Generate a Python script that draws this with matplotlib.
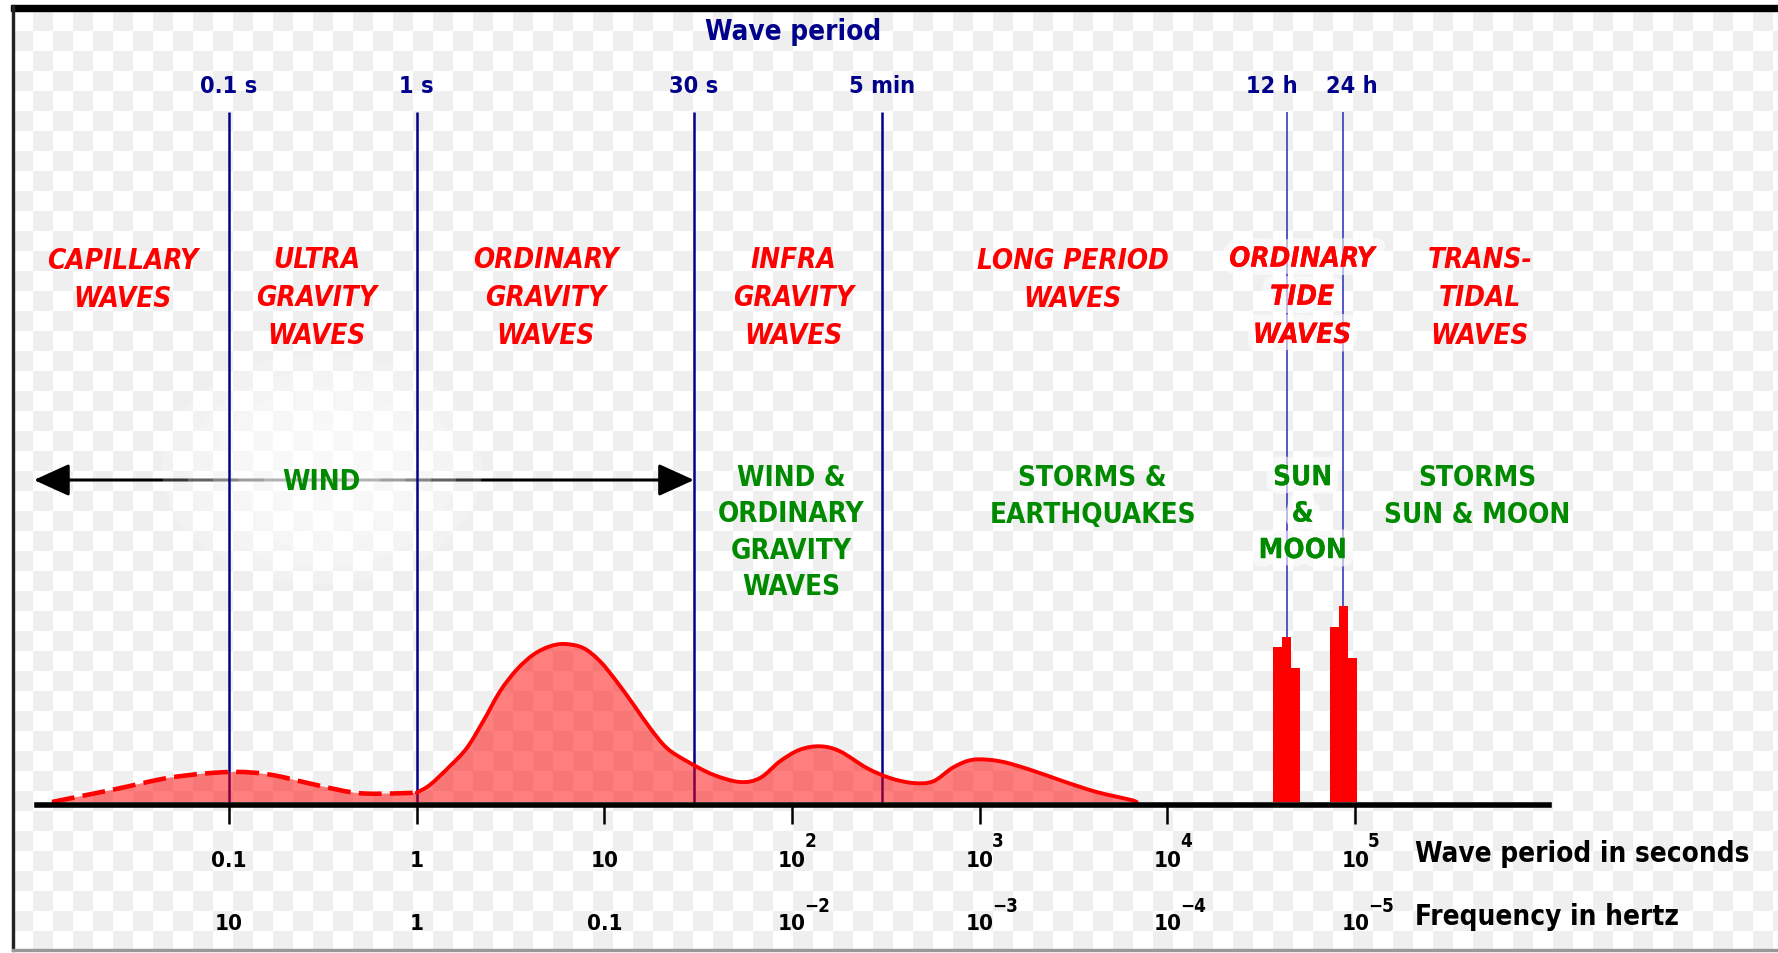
import numpy as np
import matplotlib.pyplot as plt
from matplotlib.colors import ListedColormap
from matplotlib.patches import Ellipse, Rectangle, PathPatch
from matplotlib.path import Path
from matplotlib.ticker import NullLocator
import matplotlib.patheffects as pe

#### Data (period in s, energy in arbitrary units)

# dashed part: capillary / ultra gravity waves
cap_period = [0.0114, 0.0246, 0.0497, 0.1, 0.161, 0.257, 0.410, 0.543, 0.815, 1.0]
cap_energy = [0.0, 1.27, 2.47, 3.0, 2.77, 1.94, 1.1, 0.84, 0.87, 0.94]

# solid part: gravity, infra gravity, long period waves
wave_period = [1.0, 1.18, 1.50, 1.85, 2.26, 2.78, 3.41, 4.18, 5.13, 6.17,
               7.72, 9.48, 11.6, 14.3, 17.5, 21.5, 27.4, 38.0, 52.8, 67.5,
               86.2, 110, 141, 180, 250, 332, 442, 565, 723, 923,
               1281, 1851, 2785, 4196, 6313, 6853]
wave_energy = [0.94, 1.73, 3.57, 5.4, 8.07, 11.07, 13.23, 14.73, 15.57, 15.8,
               15.4, 14.07, 12.07, 9.73, 7.4, 5.4, 4.1, 2.73, 2.0, 2.4,
               4.07, 5.23, 5.57, 5.07, 3.4, 2.4, 1.9, 2.07, 3.47, 4.23,
               4.07, 3.23, 2.07, 1.0, 0.23, 0.0]

# tidal lines around 12 h and 24 h
tide_period = [38700, 43200, 48200, 77400, 86400, 96500]
tide_energy = [15.5, 16.5, 13.4, 17.5, 19.6, 14.4]

mark_period = [0.1, 1, 30, 300]
mark_labels = ['0.1 s', '1 s', '30 s', '5 min']
tide_mark = [43200, 86400]
tide_labels = ['12 h', '24 h']

tick_period = [0.1, 1, 10, 1e2, 1e3, 1e4, 1e5]

zone_labels = ['CAPILLARY\nWAVES', 'ULTRA\nGRAVITY\nWAVES', 'ORDINARY\nGRAVITY\nWAVES',
               'INFRA\nGRAVITY\nWAVES', 'LONG PERIOD\nWAVES', 'ORDINARY\nTIDE\nWAVES',
               'TRANS-\nTIDAL\nWAVES']
force_labels = ['WIND', 'WIND &\nORDINARY\nGRAVITY\nWAVES', 'STORMS &\nEARTHQUAKES',
                'SUN\n&\nMOON', 'STORMS\nSUN & MOON']

wind_range = [0.00914, 30]

#### Layout (pixels of the 1778x954 picture)
W, H = 1778, 954
zone_x_px = [122.6, 316.7, 546, 793.6, 1072.5, 1302, 1480]
force_x_px = [321.6, 791, 1092.6, 1302.6, 1477.5]
force_y_px = [490, 486.7, 486.7, 486.7, 486.7]

def at(px, py):
    return (px / W, 1 - py / H)

# smooth curve through the read points (Catmull-Rom in log-period space)
def smooth_verts(xs, ys):
    pts = np.column_stack([np.log10(xs), ys])
    n = len(pts)
    verts = [pts[0]]
    for i in range(n - 1):
        p0 = pts[max(i - 1, 0)]
        p1, p2 = pts[i], pts[i + 1]
        p3 = pts[min(i + 2, n - 1)]
        verts += [p1 + (p2 - p0) / 6, p2 - (p3 - p1) / 6, p2]
    verts = np.array(verts)
    verts[:, 0] = 10 ** verts[:, 0]
    codes = [Path.MOVETO] + [Path.CURVE4] * (len(verts) - 1)
    return verts, codes

font = dict(family='DejaVu Sans', stretch='condensed', weight='bold')
navy = '#00008b'
red = '#ff0000'
green = '#008a00'

fig = plt.figure(figsize=(W / 100, H / 100), dpi=100)
fig.set_facecolor('white')

# background: transparency checkerboard + frame
bg = fig.add_axes([0, 0, 1, 1])
bg.axis('off')
ii, jj = np.mgrid[0:48, 0:89]
checker = (ii + jj) % 2
bg.imshow(checker, cmap=ListedColormap(['white', '#efefef']), interpolation='nearest',
          extent=(13, 13 + 89 * 20, 12 + 48 * 20, 12), aspect='auto')
bg.set_xlim(0, W)
bg.set_ylim(H, 0)
bg.add_patch(Rectangle((0, 951), W, 3, color='white', zorder=2))
bg.add_patch(Rectangle((11, 6), W - 11, 6, color='black', zorder=3))
bg.add_patch(Rectangle((12, 6), 2, 946, color='#222222', zorder=3))
bg.add_patch(Rectangle((12, 950), W - 12, 1.5, color='#999999', zorder=3))

ax = fig.add_axes([0, 0, 1, 1])
ax.set_zorder(1)
ax.patch.set_visible(False)
ax.set_xscale('log')
ax.set_xlim(10 ** -2.22, 10 ** 7.2526)
ax.set_ylim(-15.1, 80.3)

# wind arrow
ax.annotate('', xy=(wind_range[0], 32.2), xytext=(wind_range[1], 32.2),
            arrowprops=dict(arrowstyle='<|-|>,head_length=1.1,head_width=0.5',
                            mutation_scale=20, lw=2.2, color='black',
                            shrinkA=0, shrinkB=0), zorder=1)

# soft white glow around WIND
for k in range(5):
    ax.add_artist(Ellipse((322, 470), 320 - 50 * k, 230 - 35 * k, transform=bg.transData,
                          color='white', alpha=0.22, lw=0, zorder=1.2))

# period marker lines
ax.vlines(mark_period, 0, 69.0, color=navy, lw=1.8, zorder=1.5)
ax.vlines(tide_mark, 0, 69.0, color='#2a2ab8', lw=1.1, zorder=1.5)

# energy spectrum
all_period = cap_period + wave_period[1:]
all_energy = cap_energy + wave_energy[1:]
v, c = smooth_verts(all_period, all_energy)
v = np.vstack([v, [[all_period[-1], 0], [all_period[0], 0], [all_period[0], 0]]])
c = c + [Path.LINETO, Path.LINETO, Path.CLOSEPOLY]
ax.add_patch(PathPatch(Path(v, c), facecolor=red, alpha=0.5, lw=0, zorder=2))

v, c = smooth_verts(cap_period, cap_energy)
ax.add_patch(PathPatch(Path(v, c), fill=False, edgecolor=red, lw=3.3,
                       ls=(0, (5, 1.8)), capstyle='butt', zorder=3))
v, c = smooth_verts(wave_period, wave_energy)
ax.add_patch(PathPatch(Path(v, c), fill=False, edgecolor=red, lw=2.8,
                       joinstyle='round', capstyle='round', zorder=3))

tp = np.array(tide_period, dtype=float)
half = 10 ** 0.024
ax.bar(tp / half, tide_energy, width=tp * half - tp / half, align='edge',
       color=red, lw=0, zorder=3)

# axis
for side in ['top', 'left', 'right']:
    ax.spines[side].set_visible(False)
ax.spines['bottom'].set_position(('data', -0.25))
ax.spines['bottom'].set_bounds(10 ** -2.023, 10 ** 6.0325)
ax.spines['bottom'].set_linewidth(4)
ax.spines['bottom'].set_zorder(4)
ax.set_xticks(tick_period)
ax.set_xticklabels([])
ax.xaxis.set_minor_locator(NullLocator())
ax.tick_params(axis='x', which='major', length=14, width=1.8, direction='out',
               labelbottom=False)
ax.set_yticks([])

# two rows of tick labels: period and frequency
def split_label(v):
    e = int(round(np.log10(v)))
    if -1 <= e <= 1:
        return '%g' % v, ''
    return '10', str(e).replace('-', '\u2212')

for p in tick_period:
    for val, y, rise in [(p, -6.4, 14.4), (1.0 / p, -12.7, 13)]:
        m, e = split_label(val)
        ax.text(p, y, m, ha='center', va='baseline', size=16, color='black',
                zorder=5, **font)
        if e:
            ax.annotate(e, xy=(p, y), xytext=(9, rise), textcoords='offset points',
                        ha='left', va='baseline', size=13.5, color='black',
                        zorder=5, **font)

ax.text(*at(1415, 862), 'Wave period in seconds', transform=ax.transAxes,
        ha='left', va='baseline', size=20, color='black', **font)
ax.text(*at(1415, 925), 'Frequency in hertz', transform=ax.transAxes,
        ha='left', va='baseline', size=20, color='black', **font)

# top labels
ax.text(*at(793, 40), 'Wave period', transform=ax.transAxes, ha='center',
        va='baseline', size=20, color=navy, **font)
for p, lab in zip(mark_period, mark_labels):
    ax.text(p, 71.0, lab, ha='center', va='baseline', size=16.8, color=navy, **font)
for p, lab, dx in zip(tide_mark, tide_labels, [-11, 6.5]):
    ax.annotate(lab, xy=(p, 71.0), xytext=(dx, 0), textcoords='offset points',
                ha='center', va='baseline', size=16.8, color=navy, **font)

# wave type and generating force labels (va='baseline' pins the last line)
glow = [pe.withStroke(linewidth=12, foreground='white', alpha=0.6)]
for px, lab in zip(zone_x_px, zone_labels):
    n = lab.count('\n')
    t = ax.text(*at(px, 269.5 + n * 37.2), lab, transform=ax.transAxes, ha='center',
                va='baseline', ma='center', linespacing=1.46, size=20, color=red,
                style='oblique', zorder=5, **font)
    if 'TIDE' in lab:
        t.set_path_effects(glow + [pe.Normal()])
for px, py, lab in zip(force_x_px, force_y_px, force_labels):
    n = lab.count('\n')
    t = ax.text(*at(px, py + n * 36.2), lab, transform=ax.transAxes, ha='center',
                va='baseline', ma='center', linespacing=1.385, size=20, color=green,
                zorder=5, **font)
    if lab.startswith('SUN'):
        t.set_path_effects(glow + [pe.Normal()])

fig.savefig('out.png', dpi=100, facecolor='white')
